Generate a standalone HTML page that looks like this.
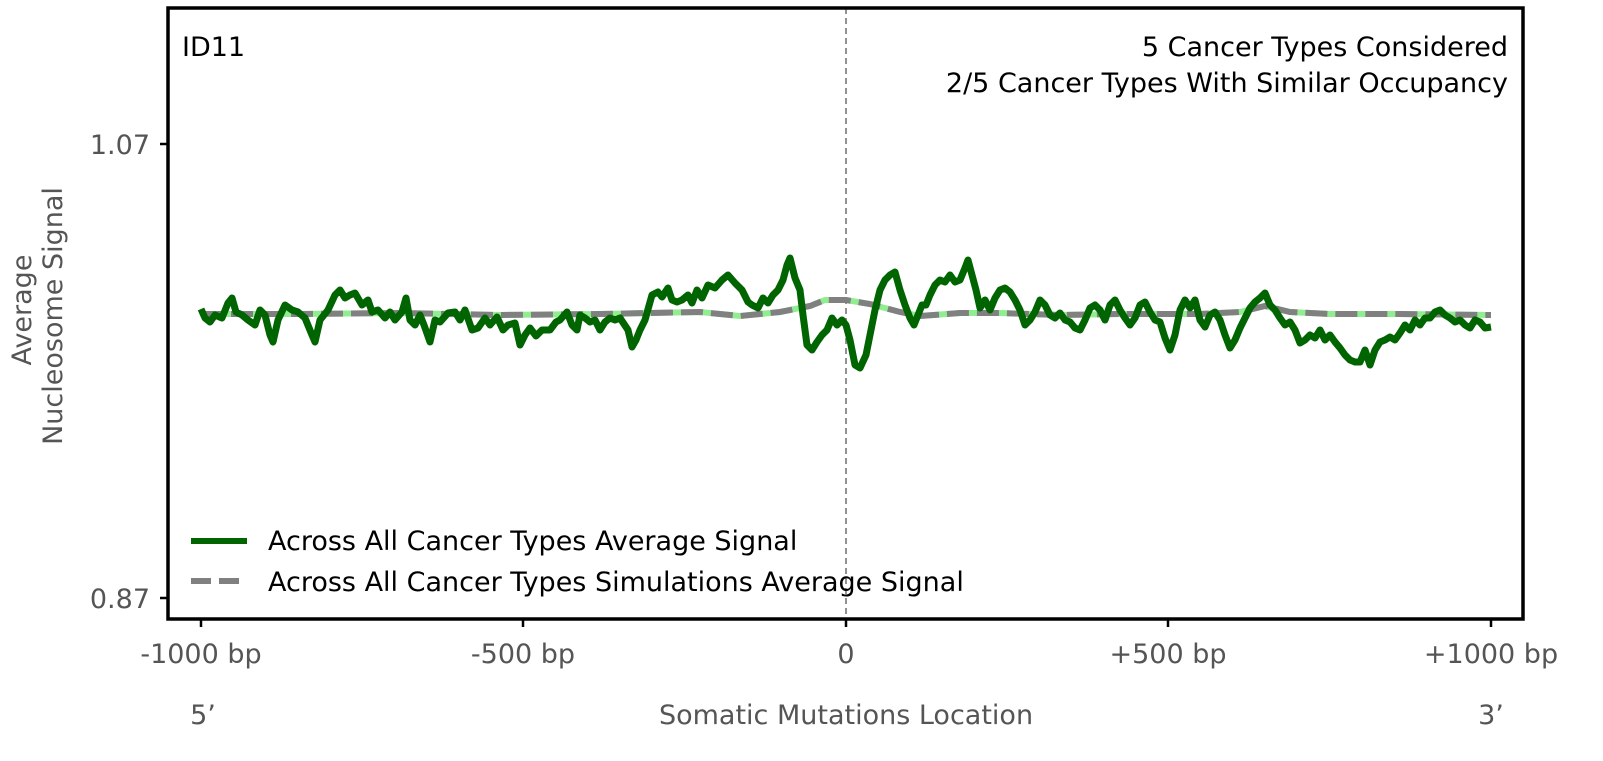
<!DOCTYPE html>
<html><head><meta charset="utf-8"><style>
body{margin:0;background:#fff;}
svg text{font-family:"DejaVu Sans","Liberation Sans",sans-serif;}
</style></head><body>
<svg width="1603" height="756" viewBox="0 0 1603 756" xmlns="http://www.w3.org/2000/svg">
<rect width="1603" height="756" fill="#fff"/>
<line x1="846" y1="8" x2="846" y2="619" stroke="#777" stroke-width="1.6" stroke-dasharray="6,4"/>
<path d="M201,314 L300,314 L400,313 L500,315 L600,314 L700,312 L740,316 L780,312 L810,306 L825,300 L846,300 L870,304 L900,312 L920,316 L960,313 L1000,313 L1060,315 L1120,314 L1200,314 L1240,312 L1265,306 L1290,312 L1330,314 L1400,314 L1491,315" fill="none" stroke="#90ee90" stroke-width="6"/>
<path d="M201,314 L300,314 L400,313 L500,315 L600,314 L700,312 L740,316 L780,312 L810,306 L825,300 L846,300 L870,304 L900,312 L920,316 L960,313 L1000,313 L1060,315 L1120,314 L1200,314 L1240,312 L1265,306 L1290,312 L1330,314 L1400,314 L1491,315" fill="none" stroke="#808080" stroke-width="6" stroke-dasharray="22,8"/>
<polyline fill="none" stroke="#006400" stroke-width="7" stroke-linejoin="round" points="201,309 205,318 210,322 215,315 222,318 228,303 232,298 236,312 242,315 248,320 255,325 260,310 265,315 270,335 273,342 278,320 285,305 292,310 298,312 305,318 312,335 315,342 320,320 328,310 335,295 340,290 345,298 350,295 355,293 362,305 368,300 372,312 378,310 385,318 390,312 395,320 402,312 406,298 410,320 415,325 420,315 424,325 430,342 435,320 440,322 448,313 455,312 460,320 465,310 472,330 478,328 485,318 490,325 497,317 503,330 508,325 515,323 520,345 525,335 530,328 536,336 542,330 550,330 556,322 560,320 567,312 572,325 577,330 580,315 585,318 590,322 595,320 600,330 605,322 610,318 615,320 620,318 628,330 632,347 636,340 640,330 645,320 652,295 658,292 662,297 668,288 672,300 677,302 682,300 688,295 692,303 697,290 702,298 708,285 715,288 722,280 728,275 735,283 742,290 748,302 752,305 758,308 763,298 768,303 773,295 778,290 783,280 787,265 790,258 795,278 800,290 803,315 807,345 812,350 817,342 822,335 827,330 832,318 837,325 842,320 846,325 850,340 855,365 860,368 866,355 870,335 875,310 880,290 885,280 890,275 895,272 900,290 905,305 910,318 914,325 918,315 922,305 926,305 930,295 935,285 940,280 945,282 950,275 955,282 960,280 965,268 968,260 972,275 976,290 980,308 985,300 990,310 995,298 1000,290 1005,288 1010,292 1015,300 1020,310 1025,325 1030,320 1035,312 1040,300 1045,305 1050,315 1055,318 1060,313 1065,320 1070,322 1075,328 1080,330 1085,320 1090,308 1095,305 1100,310 1105,320 1110,305 1115,300 1120,310 1125,318 1130,325 1135,318 1140,305 1145,302 1150,312 1155,320 1160,322 1165,338 1170,350 1175,335 1180,310 1185,300 1190,308 1195,300 1200,320 1205,327 1210,315 1215,312 1220,320 1225,335 1230,348 1235,340 1240,328 1245,318 1250,308 1255,302 1260,298 1265,293 1270,305 1275,310 1280,318 1285,325 1290,322 1295,330 1300,343 1305,340 1310,335 1315,338 1320,330 1325,340 1330,335 1335,342 1340,348 1345,355 1350,360 1355,362 1360,362 1365,350 1370,365 1375,350 1380,342 1385,340 1390,337 1395,340 1400,333 1405,325 1410,330 1415,320 1420,325 1425,318 1430,318 1435,312 1440,310 1445,315 1450,318 1455,322 1460,320 1465,325 1470,328 1475,320 1480,322 1485,328 1491,327"/>
<rect x="168" y="8" width="1355" height="611" fill="none" stroke="#000" stroke-width="3.5"/>
<g stroke="#000" stroke-width="2.5">
<line x1="160" y1="144" x2="168" y2="144"/><line x1="160" y1="598" x2="168" y2="598"/>
<line x1="201" y1="619" x2="201" y2="627"/><line x1="523" y1="619" x2="523" y2="627"/><line x1="846" y1="619" x2="846" y2="627"/><line x1="1168" y1="619" x2="1168" y2="627"/><line x1="1491" y1="619" x2="1491" y2="627"/>
</g>
<g fill="#555" font-size="27">
<text x="150" y="154" text-anchor="end">1.07</text>
<text x="150" y="608" text-anchor="end">0.87</text>
<text x="201" y="663" text-anchor="middle">-1000 bp</text>
<text x="523" y="663" text-anchor="middle">-500 bp</text>
<text x="846" y="663" text-anchor="middle">0</text>
<text x="1168" y="663" text-anchor="middle">+500 bp</text>
<text x="1491" y="663" text-anchor="middle">+1000 bp</text>
<text x="203" y="724" text-anchor="middle">5’</text>
<text x="1491" y="724" text-anchor="middle">3’</text>
<text x="846" y="724" text-anchor="middle">Somatic Mutations Location</text>
<text transform="translate(31,310) rotate(-90)" text-anchor="middle">Average</text>
<text transform="translate(62,316) rotate(-90)" text-anchor="middle">Nucleosome Signal</text>
</g>
<g fill="#000" font-size="27">
<text x="182" y="56">ID11</text>
<text x="1508" y="56" text-anchor="end">5 Cancer Types Considered</text>
<text x="1508" y="92" text-anchor="end">2/5 Cancer Types With Similar Occupancy</text>
<text x="268" y="550">Across All Cancer Types Average Signal</text>
<text x="268" y="591">Across All Cancer Types Simulations Average Signal</text>
</g>
<line x1="191" y1="541" x2="247" y2="541" stroke="#006400" stroke-width="6"/>
<line x1="191" y1="581" x2="247" y2="581" stroke="#808080" stroke-width="6" stroke-dasharray="20,8"/>
</svg>
</body></html>
